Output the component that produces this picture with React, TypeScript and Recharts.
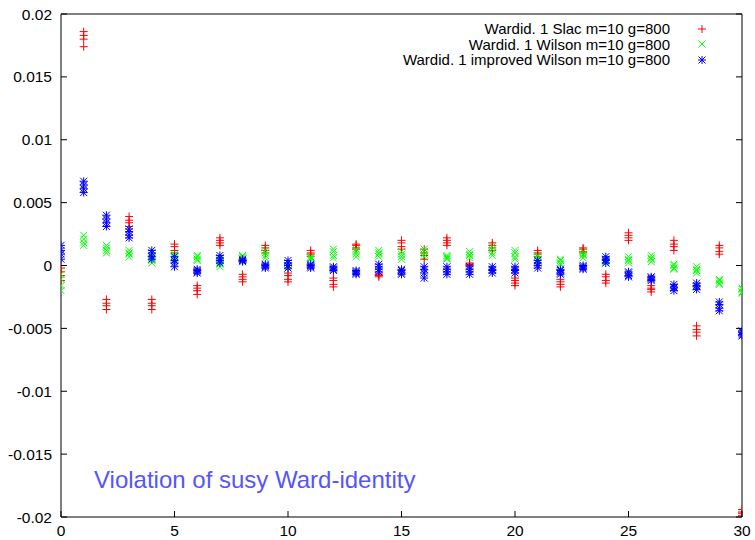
import { ScatterChart, Scatter, XAxis, YAxis, Legend } from 'recharts';

// one list of samples per x index (0..30)
const xIndex = Array.from({ length: 31 }, (_, i) => i);

const slac: number[][] = [
  [-0.0002, -0.0005, -0.0008, -0.0012],
  [0.0186, 0.0183, 0.018, 0.0174],
  [-0.0027, -0.003, -0.0032, -0.0035],
  [0.0039, 0.0036, 0.0034, 0.0031],
  [-0.0027, -0.003, -0.0032, -0.0035],
  [0.0017, 0.0015, 0.0012, 0.001],
  [-0.0016, -0.0018, -0.002, -0.0023],
  [0.0022, 0.002, 0.0018, 0.0016],
  [-0.0007, -0.0009, -0.0011, -0.0013],
  [0.0016, 0.0014, 0.0012, 0.001],
  [-0.0006, -0.0008, -0.0011, -0.0013],
  [0.0012, 0.001, 0.0009, 0.0007],
  [-0.001, -0.0012, -0.0015, -0.0017],
  [0.0017, 0.0016, 0.0014, 0.0013],
  [-0.0006, -0.0007, -0.0008, -0.0009],
  [0.002, 0.0018, 0.0015, 0.0013],
  [0.0013, 0.001, 0.0008, 0.0005],
  [0.0022, 0.002, 0.0018, 0.0016],
  [0.0002, 0.0001, 0.0001, 0.0],
  [0.0018, 0.0016, 0.0014, 0.0012],
  [-0.001, -0.0012, -0.0014, -0.0016],
  [0.0012, 0.001, 0.0009, 0.0007],
  [-0.0011, -0.0013, -0.0015, -0.0017],
  [0.0014, 0.0013, 0.0011, 0.001],
  [-0.0007, -0.0009, -0.0012, -0.0014],
  [0.0026, 0.0024, 0.0022, 0.002],
  [-0.0016, -0.0018, -0.0019, -0.0021],
  [0.002, 0.0017, 0.0015, 0.0012],
  [-0.0048, -0.0051, -0.0053, -0.0056],
  [0.0016, 0.0014, 0.0011, 0.0009],
  [-0.0194, -0.0196, -0.0197, -0.0199],
];

const wilson: number[][] = [
  [-0.0007, -0.0011, -0.0016, -0.002],
  [0.0024, 0.0021, 0.0018, 0.0016],
  [0.0016, 0.0014, 0.0012, 0.001],
  [0.0012, 0.001, 0.0009, 0.0007],
  [0.0008, 0.0006, 0.0004, 0.0002],
  [0.0009, 0.0008, 0.0006, 0.0005],
  [0.0008, 0.0007, 0.0005, 0.0004],
  [0.0005, 0.0003, 0.0001, -0.0001],
  [0.0008, 0.0007, 0.0006, 0.0005],
  [0.0012, 0.001, 0.0008, 0.0006],
  [0.0, -0.0001, -0.0001, -0.0002],
  [0.0007, 0.0006, 0.0006, 0.0005],
  [0.0013, 0.0011, 0.0008, 0.0006],
  [0.0013, 0.0011, 0.0009, 0.0007],
  [0.0012, 0.001, 0.0009, 0.0007],
  [0.0011, 0.0009, 0.0007, 0.0005],
  [0.0013, 0.0011, 0.0009, 0.0007],
  [0.0008, 0.0007, 0.0006, 0.0005],
  [0.0011, 0.0009, 0.0008, 0.0006],
  [0.0015, 0.0013, 0.001, 0.0008],
  [0.0012, 0.001, 0.0007, 0.0005],
  [0.0008, 0.0007, 0.0005, 0.0004],
  [0.0005, 0.0004, 0.0002, 0.0001],
  [0.0011, 0.0009, 0.0008, 0.0006],
  [0.0004, 0.0003, 0.0003, 0.0002],
  [0.0007, 0.0005, 0.0004, 0.0002],
  [0.0008, 0.0006, 0.0005, 0.0003],
  [0.0001, 0.0, -0.0002, -0.0003],
  [-0.0001, -0.0003, -0.0004, -0.0006],
  [-0.0011, -0.0012, -0.0014, -0.0015],
  [-0.0018, -0.0019, -0.0021, -0.0022],
];

const improved: number[][] = [
  [0.0016, 0.0012, 0.0009, 0.0005],
  [0.0067, 0.0064, 0.0061, 0.0058],
  [0.004, 0.0037, 0.0034, 0.0031],
  [0.0029, 0.0027, 0.0024, 0.0022],
  [0.0012, 0.001, 0.0007, 0.0005],
  [0.0007, 0.0004, 0.0002, -0.0001],
  [-0.0003, -0.0004, -0.0005, -0.0006],
  [0.0008, 0.0006, 0.0004, 0.0002],
  [0.0005, 0.0004, 0.0004, 0.0003],
  [0.0001, 0.0, -0.0001, -0.0002],
  [0.0004, 0.0002, 0.0, -0.0002],
  [0.0001, 0.0, -0.0001, -0.0002],
  [-0.0001, -0.0002, -0.0003, -0.0004],
  [-0.0004, -0.0005, -0.0006, -0.0007],
  [0.0001, -0.0001, -0.0003, -0.0005],
  [-0.0003, -0.0004, -0.0006, -0.0007],
  [-0.0001, -0.0003, -0.0006, -0.001],
  [-0.0001, -0.0003, -0.0005, -0.0007],
  [-0.0001, -0.0003, -0.0005, -0.0007],
  [-0.0001, -0.0003, -0.0004, -0.0006],
  [-0.0001, -0.0003, -0.0004, -0.0006],
  [0.0004, 0.0002, 0.0, -0.0002],
  [-0.0003, -0.0004, -0.0006, -0.0007],
  [0.0, -0.0001, -0.0002, -0.0003],
  [0.0007, 0.0005, 0.0004, 0.0002],
  [-0.0005, -0.0006, -0.0008, -0.0009],
  [-0.0009, -0.001, -0.0011, -0.0012],
  [-0.0015, -0.0017, -0.0018, -0.002],
  [-0.0014, -0.0016, -0.0017, -0.0019],
  [-0.0029, -0.0031, -0.0034, -0.0036],
  [-0.0052, -0.0053, -0.0055, -0.0056],
];

const xTicks = [0, 5, 10, 15, 20, 25, 30];
const yTicks = [-0.02, -0.015, -0.01, -0.005, 0, 0.005, 0.01, 0.015, 0.02];

const seriesNames = [
  'Wardid. 1 Slac m=10 g=800',
  'Wardid. 1 Wilson m=10 g=800',
  'Wardid. 1 improved Wilson m=10 g=800',
];

const toPoints = (samples: number[][]) =>
  xIndex.flatMap((x) => samples[x].map((y) => ({ x, y })));

const FONT = '"Liberation Sans", Arial, sans-serif';
const R = 4;
const TICK_LEN = 6;
const X_MARGIN = 8;
const Y_MARGIN = 9;

const plusPath = (cx: number, cy: number) =>
  `M${cx - R},${cy}h${2 * R}M${cx},${cy - R}v${2 * R}`;
const crossPath = (cx: number, cy: number) =>
  `M${cx - R + 0.5},${cy - R + 0.5}L${cx + R - 0.5},${cy + R - 0.5}M${cx - R + 0.5},${cy + R - 0.5}L${cx + R - 0.5},${cy - R + 0.5}`;
const starPath = (cx: number, cy: number) => plusPath(cx, cy) + crossPath(cx, cy);

const markers = [
  { color: '#ff0000', path: plusPath },
  { color: '#00ff00', path: crossPath },
  { color: '#0000ff', path: starPath },
];

const makeShape = (k: number) => (props: any) => {
  const { cx, cy } = props;
  if (cx == null || cy == null) return <g />;
  return <path d={markers[k].path(cx, cy)} stroke={markers[k].color} strokeWidth={1} fill="none" />;
};

// gnuplot style: tick marks point into the plot box
const BottomTick = ({ x, y, payload }: any) => (
  <g>
    <line x1={x} x2={x} y1={y - X_MARGIN} y2={y - X_MARGIN - TICK_LEN} stroke="#000" />
    <text x={x} y={y} dy="0.71em" textAnchor="middle" fill="#000" fontSize={15.5} fontFamily={FONT}>
      {payload.value}
    </text>
  </g>
);

const LeftTick = ({ x, y, payload }: any) => (
  <g>
    <line x1={x + Y_MARGIN} x2={x + Y_MARGIN + TICK_LEN} y1={y} y2={y} stroke="#000" />
    <text x={x} y={y} dy="0.355em" textAnchor="end" fill="#000" fontSize={15.5} fontFamily={FONT}>
      {payload.value}
    </text>
  </g>
);

const TopTick = ({ x, y }: any) => (
  <line x1={x} x2={x} y1={y} y2={y + TICK_LEN} stroke="#000" />
);

const RightTick = ({ x, y }: any) => (
  <line x1={x} x2={x - TICK_LEN} y1={y} y2={y} stroke="#000" />
);

const renderLegend = () => (
  <div style={{ fontFamily: FONT, fontSize: 15, color: '#000' }}>
    {seriesNames.map((name, k) => (
      <div
        key={name}
        style={{ display: 'flex', justifyContent: 'flex-end', alignItems: 'center', height: 15.5 }}
      >
        <span style={{ whiteSpace: 'nowrap' }}>{name}</span>
        <svg width={64} height={12} style={{ display: 'block' }}>
          <path d={markers[k].path(32, 6)} stroke={markers[k].color} strokeWidth={1} fill="none" />
        </svg>
      </div>
    ))}
  </div>
);

const App = () => {
  return (
    <div style={{ position: 'absolute', left: 0, top: 0, width: 755, height: 540, background: '#fff' }}>
      <ScatterChart width={755} height={540} margin={{ top: 13, right: 12, bottom: 0, left: 0 }}>
        <XAxis
          dataKey="x"
          type="number"
          domain={[0, 30]}
          ticks={xTicks}
          allowDataOverflow
          height={23}
          tickSize={0}
          tickMargin={X_MARGIN}
          tickLine={false}
          tick={<BottomTick />}
          stroke="#000"
        />
        <XAxis
          xAxisId="top"
          orientation="top"
          type="number"
          domain={[0, 30]}
          ticks={xTicks}
          allowDataOverflow
          height={1}
          tickSize={0}
          tickMargin={0}
          tickLine={false}
          tick={<TopTick />}
          stroke="#000"
        />
        <YAxis
          dataKey="y"
          type="number"
          domain={[-0.02, 0.02]}
          ticks={yTicks}
          allowDataOverflow
          width={61}
          tickSize={0}
          tickMargin={Y_MARGIN}
          tickLine={false}
          tick={<LeftTick />}
          stroke="#000"
        />
        <YAxis
          yAxisId="right"
          orientation="right"
          type="number"
          domain={[-0.02, 0.02]}
          ticks={yTicks}
          allowDataOverflow
          width={1}
          tickSize={0}
          tickMargin={0}
          tickLine={false}
          tick={<RightTick />}
          stroke="#000"
        />
        <Legend
          layout="vertical"
          align="center"
          verticalAlign="middle"
          wrapperStyle={{ top: 21, right: 21 }}
          content={renderLegend}
        />
        <Scatter name={seriesNames[0]} data={toPoints(slac)} shape={makeShape(0)} isAnimationActive={false} />
        <Scatter name={seriesNames[1]} data={toPoints(wilson)} shape={makeShape(1)} isAnimationActive={false} />
        <Scatter name={seriesNames[2]} data={toPoints(improved)} shape={makeShape(2)} isAnimationActive={false} />
      </ScatterChart>
      <div
        style={{
          position: 'absolute',
          left: 94,
          top: 466,
          fontFamily: FONT,
          fontSize: 24,
          color: '#5555ff',
          whiteSpace: 'nowrap',
          lineHeight: '28px',
        }}
      >
        Violation of susy Ward-identity
      </div>
    </div>
  );
};

export default App;
